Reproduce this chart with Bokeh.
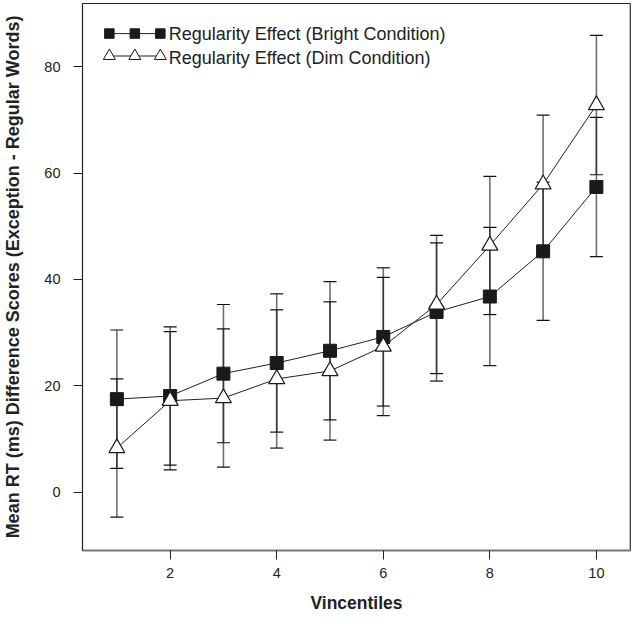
from bokeh.plotting import figure
from bokeh.models import Range1d, ColumnDataSource, Whisker, TeeHead, FixedTicker, Span
from bokeh.embed import file_html
from bokeh.resources import INLINE
from bokeh.core.properties import value

vincentiles = [1, 2, 3, 4, 5, 6, 7, 8, 9, 10]
bright_mean = [17.5, 18.1, 22.3, 24.3, 26.6, 29.2, 33.9, 36.8, 45.3, 57.4]
bright_err = [13.0, 13.0, 13.0, 13.0, 13.0, 13.0, 13.0, 13.0, 13.0, 13.1]
dim_mean = [8.3, 17.2, 17.7, 21.3, 22.8, 27.4, 35.3, 46.4, 57.9, 72.8]
dim_err = [13.0, 13.0, 13.0, 13.0, 13.0, 13.0, 13.0, 13.0, 13.0, 13.1]
x_ticks = [2, 4, 6, 8, 10]
y_ticks = [0, 20, 40, 60, 80]
legend_labels = ["Regularity Effect (Bright Condition)", "Regularity Effect (Dim Condition)"]

XMIN, XMAX = 0.355, 10.64
YMIN, YMAX = -10.96, 91.9
FONT = "Liberation Sans"

p = figure(width=634, height=622, output_backend="svg", toolbar_location=None,
           x_range=Range1d(XMIN, XMAX), y_range=Range1d(YMIN, YMAX),
           min_border_left=82, min_border_right=4, min_border_top=3, min_border_bottom=72)
p.background_fill_color = "white"
p.border_fill_color = "white"
p.outline_line_color = "#222222"
p.outline_line_width = 1
p.xgrid.visible = False
p.ygrid.visible = False

for ax in (p.xaxis[0], p.yaxis[0]):
    ax.major_tick_line_color = "#222222"
    ax.major_tick_out = 9
    ax.major_tick_in = 0
    ax.minor_tick_out = 0
    ax.minor_tick_in = 0
    ax.major_label_text_font = FONT
    ax.major_label_text_font_size = "14.5px"
    ax.major_label_text_color = "#222222"
    ax.axis_label_text_font = FONT
    ax.axis_label_text_font_style = "bold"
    ax.axis_label_text_color = "#222222"

p.xaxis.axis_line_color = "#777777"
p.xaxis.axis_line_width = 2
p.yaxis.axis_line_color = "#222222"
p.yaxis.axis_line_width = 1.2
p.xaxis.axis_label_text_font_size = "17.5px"
p.yaxis.axis_label_text_font_size = "18px"
p.add_layout(Span(location=XMAX, dimension="height", line_color="#777777", line_width=2))

p.xaxis.ticker = FixedTicker(ticks=x_ticks)
p.yaxis.ticker = FixedTicker(ticks=y_ticks)
p.xaxis.axis_label = "Vincentiles"
p.yaxis.axis_label = "Mean RT (ms) Difference Scores (Exception - Regular Words)"
p.xaxis.major_label_standoff = 8
p.yaxis.major_label_standoff = 13
p.xaxis.axis_label_standoff = 12
p.yaxis.axis_label_standoff = 18

src_b = ColumnDataSource(dict(x=vincentiles, y=bright_mean,
                              lo=[m - e for m, e in zip(bright_mean, bright_err)],
                              hi=[m + e for m, e in zip(bright_mean, bright_err)]))
src_d = ColumnDataSource(dict(x=vincentiles, y=dim_mean,
                              lo=[m - e for m, e in zip(dim_mean, dim_err)],
                              hi=[m + e for m, e in zip(dim_mean, dim_err)]))

for src in (src_b, src_d):
    w = Whisker(base="x", lower="lo", upper="hi", source=src, level="underlay",
                line_color="#111111", line_alpha=0.6, line_width=1.6,
                upper_head=TeeHead(size=13, line_color="#111111", line_width=1.2),
                lower_head=TeeHead(size=13, line_color="#111111", line_width=1.2))
    p.add_layout(w)

p.line("x", "y", source=src_b, line_color="#222222", line_width=1)
p.line("x", "y", source=src_d, line_color="#222222", line_width=1)
p.scatter("x", "y", source=src_b, marker="square", size=13,
          fill_color="#1a1a1a", line_color="#1a1a1a")
p.scatter("x", "y", source=src_d, marker="triangle", size=16,
          fill_color="white", line_color="#1a1a1a", line_width=1.2)

# manual legend (three markers joined by a line, as in the original)
fx = lambda f: XMIN + f * (XMAX - XMIN)
fy = lambda f: YMIN + f * (YMAX - YMIN)
lx = [fx(0.049), fx(0.0955), fx(0.142)]
ly1 = [fy(0.945)] * 3
ly2 = [fy(0.904)] * 3
p.line(lx, ly1, line_color="#222222", line_width=1)
p.scatter(lx, ly1, marker="square", size=9.5, fill_color="#1a1a1a", line_color="#1a1a1a")
p.line(lx, ly2, line_color="#222222", line_width=1)
p.scatter(lx, ly2, marker="triangle", size=12, fill_color="white", line_color="#1a1a1a")
p.text(x=[fx(0.1575)] * 2, y=[ly1[0], fy(0.900)], text=legend_labels,
       text_font=value(FONT), text_font_size="18px", text_color="#222222",
       text_baseline="middle", text_align="left")

open("out.html", "w").write(file_html(p, INLINE))
